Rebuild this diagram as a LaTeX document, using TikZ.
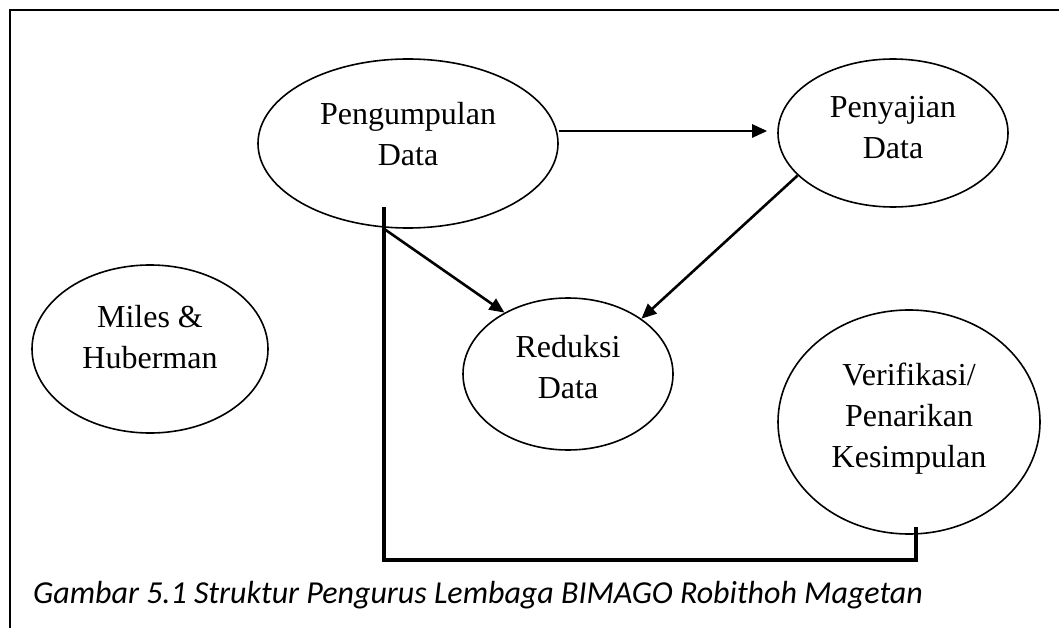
\documentclass[tikz,border=0pt]{standalone}
\usepackage{fontspec}
\setmainfont{Liberation Serif}
\newfontfamily\capfont{Carlito}
\usetikzlibrary{shapes.geometric,arrows.meta}
\newcommand{\lowpad}[1]{\rule[-#1]{0pt}{#1}}

\begin{document}
\begin{tikzpicture}[x=1pt,y=-1pt,
    bubble/.style={ellipse,draw,line width=1.6pt,inner sep=0pt,align=center,font=\fontsize{32}{41}\selectfont},
    flow/.style={line width=2.6pt,-{Triangle[length=15pt,width=13pt]}},
    link/.style={line width=4pt},
    frame/.style={line width=2.6pt},
    caption/.style={font=\capfont\itshape\fontsize{32}{38}\selectfont,anchor=base west,inner sep=0pt}]
  \useasboundingbox (0,0) rectangle (1059,628);
  \draw[frame] (10,628) -- (10,10) -- (1059,10);

  % the five ellipses
  \node[bubble,minimum width=300pt,minimum height=169pt] (pd) at (408,143.5) {Pengumpulan\\Data\lowpad{19pt}};
  \node[bubble,minimum width=230pt,minimum height=148pt] (ps) at (893,133) {Penyajian\\Data\lowpad{12pt}};
  \node[bubble,minimum width=210pt,minimum height=152pt] (rd) at (568,374) {Reduksi\\Data\lowpad{15pt}};
  \node[bubble,minimum width=236pt,minimum height=168pt] (mh) at (150,349) {Miles \&\\Huberman\lowpad{25pt}};
  \node[bubble,minimum width=262pt,minimum height=224pt] (vk) at (909,422) {Verifikasi/\\Penarikan\\Kesimpulan\lowpad{13pt}};

  % arrows
  \coordinate (stem) at (384,207);
  \coordinate (foot) at (916,527);
  \draw[flow] ([yshift=12.5pt]pd.east) -- ([xshift=-10pt,yshift=2pt]ps.west);
  \draw[flow] (pd.south -| stem) -- (rd.136);
  \draw[flow] (ps.204) -- (rd.37);
  \draw[link] (stem) -- ++(0,353) -| (foot);

  \node[caption] (cap) at (33,603) {Gambar 5.1 Struktur Pengurus Lembaga BIMAGO Robithoh Magetan};
\end{tikzpicture}
\end{document}
